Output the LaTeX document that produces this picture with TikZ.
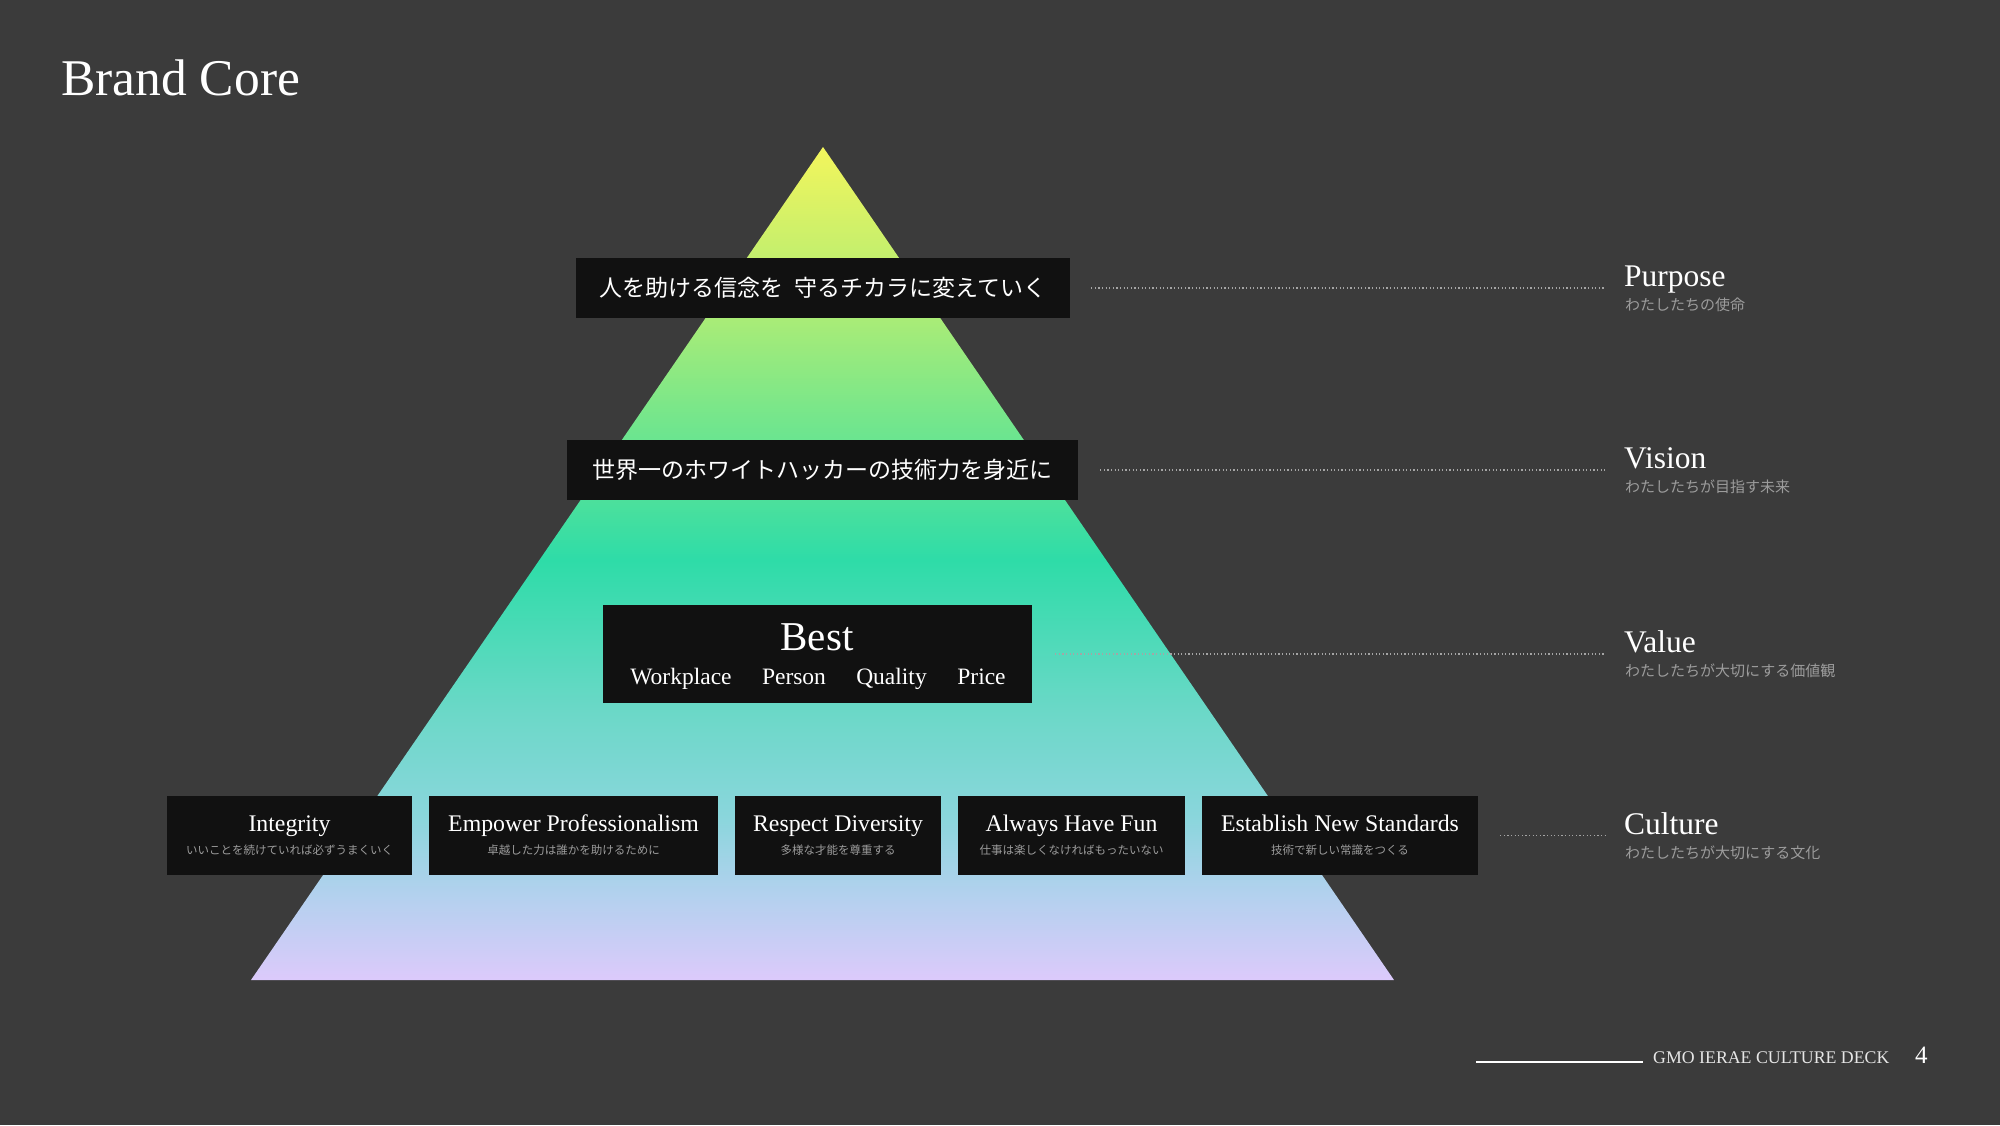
\documentclass[tikz,border=0pt]{standalone}
\usepackage{fontspec}
\setmainfont{Liberation Serif}
\newfontfamily\jp{Noto Sans CJK JP}
\definecolor{bg}{HTML}{3B3B3B}
\definecolor{boxc}{HTML}{111111}
\definecolor{subg}{HTML}{9C9C9C}
\definecolor{dotc}{HTML}{A5A5A5}
\definecolor{foot}{HTML}{E6E6E6}
\definecolor{ca}{HTML}{F3F55C}
\definecolor{cb}{HTML}{A9EC77}
\definecolor{cc}{HTML}{74E68C}
\definecolor{cd}{HTML}{2EDCA8}
\definecolor{ce}{HTML}{6CD8C8}
\definecolor{cf}{HTML}{8AD6DC}
\definecolor{cg}{HTML}{B2D1EE}
\definecolor{ch}{HTML}{DCCAFB}
\pgfdeclareverticalshading{pyr}{100bp}{color(0bp)=(ch); color(25bp)=(ch); color(30.2bp)=(cg); color(34.8bp)=(cf); color(41bp)=(ce); color(50.2bp)=(cd); color(58.6bp)=(cc); color(64.7bp)=(cb); color(75bp)=(ca); color(100bp)=(ca)}
\tikzset{
  blackbox/.style={fill=boxc, draw=none, inner sep=0pt},
  dotl/.style={dotc, line width=1.2pt, dash pattern=on 1.2pt off 2.4pt},
  lbltitle/.style={anchor=base west, inner sep=0pt, text=white, font=\fontsize{31.5}{36}\selectfont},
  lblsub/.style={anchor=base west, inner sep=0pt, text=subg, font=\jp\fontsize{15}{17}\selectfont},
  jpbig/.style={inner sep=0pt, text=white, font=\jp\fontsize{23}{28}\selectfont},
  cultitle/.style={anchor=base, inner sep=0pt, text=white, font=\fontsize{23.8}{28}\selectfont},
  culsub/.style={anchor=base, inner sep=0pt, text=subg, font=\jp\fontsize{11.5}{14}\selectfont},
  bestword/.style={anchor=base, inner sep=0pt, text=white, font=\fontsize{23.5}{27}\selectfont},
}
\begin{document}
\begin{tikzpicture}[x=1pt,y=-1pt]
\fill[bg] (0,0) rectangle (2000,1125);
\useasboundingbox (0,0) rectangle (2000,1125);

% title
\node[anchor=base west, inner sep=0pt, text=white, font=\fontsize{51.5}{60}\selectfont] (title) at (61,95) {Brand Core};

% pyramid
\shade[shading=pyr] (823,147) -- (1394,980) -- (251,980) -- cycle;

% purpose box
\node[blackbox, minimum width=494pt, minimum height=60pt] (pbox) at (823,288) {};
\node[jpbig] (ptext) at (pbox.center) {人を助ける信念を\hspace{0.45em}守るチカラに変えていく};

% vision box
\node[blackbox, minimum width=511pt, minimum height=60pt] (vbox) at (822.5,470) {};
\node[jpbig] (vtext) at (vbox.center) {世界一のホワイトハッカーの技術力を身近に};

% value box
\node[blackbox, minimum width=429pt, minimum height=98pt] (bbox) at (817.5,654) {};
\node[anchor=base, inner sep=0pt, text=white, font=\fontsize{41}{48}\selectfont] (best) at (817,650) {Best};
\node[bestword] (w1) at (681,684) {Workplace};
\node[bestword] (w2) at (794,684) {Person};
\node[bestword] (w3) at (891.5,684) {Quality};
\node[bestword] (w4) at (981.5,684) {Price};

% culture boxes
\node[blackbox, minimum width=245pt, minimum height=79pt] (c1) at (289.5,835.5) {};
\node[blackbox, minimum width=289pt, minimum height=79pt] (c2) at (573.5,835.5) {};
\node[blackbox, minimum width=206pt, minimum height=79pt] (c3) at (838,835.5) {};
\node[blackbox, minimum width=227pt, minimum height=79pt] (c4) at (1071.5,835.5) {};
\node[blackbox, minimum width=276pt, minimum height=79pt] (c5) at (1340,835.5) {};

\node[cultitle] (c1t) at (289.5,831) {Integrity};
\node[culsub] (c1s) at (289.5,854) {いいことを続けていれば必ずうまくいく};
\node[cultitle] (c2t) at (573.5,831) {Empower Professionalism};
\node[culsub] (c2s) at (573.5,854) {卓越した力は誰かを助けるために};
\node[cultitle] (c3t) at (838,831) {Respect Diversity};
\node[culsub] (c3s) at (838,854) {多様な才能を尊重する};
\node[cultitle] (c4t) at (1071.5,831) {Always Have Fun};
\node[culsub] (c4s) at (1071.5,854) {仕事は楽しくなければもったいない};
\node[cultitle] (c5t) at (1340,831) {Establish New Standards};
\node[culsub] (c5s) at (1340,854) {技術で新しい常識をつくる};

% right labels
\node[lbltitle] (l1) at (1624,286) {Purpose};
\node[lblsub] (l1s) at (1625,310) {わたしたちの使命};
\node[lbltitle] (l2) at (1624,468) {Vision};
\node[lblsub] (l2s) at (1625,492) {わたしたちが目指す未来};
\node[lbltitle] (l3) at (1624,652) {Value};
\node[lblsub] (l3s) at (1625,676) {わたしたちが大切にする価値観};
\node[lbltitle] (l4) at (1624,834) {Culture};
\node[lblsub] (l4s) at (1625,858) {わたしたちが大切にする文化};

% dotted connectors
\coordinate (e1) at (1605,288);
\coordinate (e2) at (1605,470);
\coordinate (e3) at (1605,654);
\coordinate (e4) at (1605,835.5);
\draw[dotl] ([xshift=21pt]pbox.east) -- (e1);
\draw[dotl] ([xshift=22pt]vbox.east) -- (e2);
\draw[dotl] ([xshift=23pt]bbox.east) -- (e3);
\draw[dotl] ([xshift=22pt]c5.east) -- (e4);

% footer
\coordinate (f1) at (1476,1062);
\coordinate (f2) at (1643,1062);
\draw[white, line width=1.3pt] (f1) -- (f2);
\node[anchor=base west, inner sep=0pt, text=foot, font=\fontsize{17.8}{20}\selectfont] (deck) at (1653,1063) {GMO IERAE CULTURE DECK};
\node[anchor=base west, inner sep=0pt, text=white, font=\fontsize{25}{30}\selectfont] (pg) at (1915,1063) {4};
\end{tikzpicture}
\end{document}
